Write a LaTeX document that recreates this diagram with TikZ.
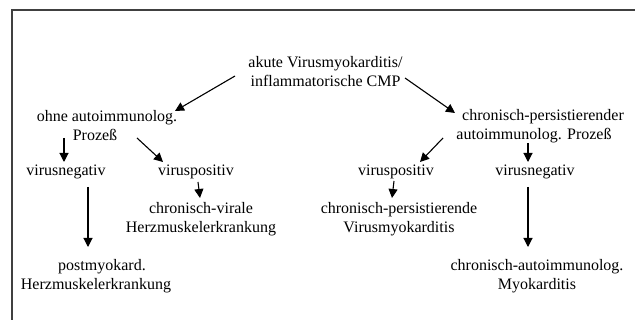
\documentclass[tikz,border=0pt]{standalone}
\usepackage{fontspec}
\setmainfont{Liberation Serif}
\usetikzlibrary{arrows.meta,calc}
\begin{document}
\begin{tikzpicture}[x=1pt,y=-1pt,
  txt/.style={align=center,inner sep=0pt,font=\fontsize{16}{19}\selectfont},
  pfeil/.style={-{Triangle[length=9pt,width=9pt]},line width=1.1pt},
  rahmen/.style={line width=1.6pt,draw=black!75}]
\useasboundingbox (0,0) rectangle (635,320);
\draw[rahmen] (12,320) -- (12,10) -- (635,10);
\path (325.5,72) node[txt](akut){akute Virusmyokarditis/\\inflammatorische CMP}
      (107,126) node[txt](ohne){ohne autoimmunolog.\\Prozeß\hspace*{24pt}}
      (543,126) node[txt](chron){chronisch-persistierender\\autoimmunolog. Prozeß\hspace*{18pt}}
      (66,172) node[txt](negl){virusnegativ}
      (196,172) node[txt](posl){viruspositiv}
      (396,172) node[txt](posr){viruspositiv}
      (535,172) node[txt](negr){virusnegativ}
      (201,219) node[txt](viral){chronisch-virale\\Herzmuskelerkrankung}
      (96,276) node[txt](post){\hspace*{12pt}postmyokard.\\Herzmuskelerkrankung}
      (399,219) node[txt](persist){chronisch-persistierende\\Virusmyokarditis}
      (537,276) node[txt](autoimm){chronisch-autoimmunolog.\\Myokarditis};
\draw[pfeil] ($(akut)+(-90.5,4)$) -- ($(ohne)+(68,-15)$);
\draw[pfeil] ($(akut)+(79.5,6)$) -- ($(chron)+(-88,-13)$);
\draw[pfeil] ($(ohne)+(-43,12)$) -- ($(negl)+(-2,-10)$);
\draw[pfeil] ($(ohne)+(30,12)$) -- ($(posl)+(-33,-10)$);
\draw[pfeil] ($(chron)+(-100,12)$) -- ($(posr)+(24,-10)$);
\draw[pfeil] ($(chron)+(-15,17)$) -- ($(negr)+(-7,-10)$);
\draw[pfeil] ($(posl)+(2,10)$) -- ($(viral)+(-1,-21)$);
\draw[pfeil] ($(negl)+(22,15)$) -- ($(post)+(-8,-29)$);
\draw[pfeil] ($(posr)+(-2,9)$) -- ($(persist)+(-7,-21)$);
\draw[pfeil] ($(negr)+(-7,15)$) -- ($(autoimm)+(-9,-29)$);
\end{tikzpicture}
\end{document}
